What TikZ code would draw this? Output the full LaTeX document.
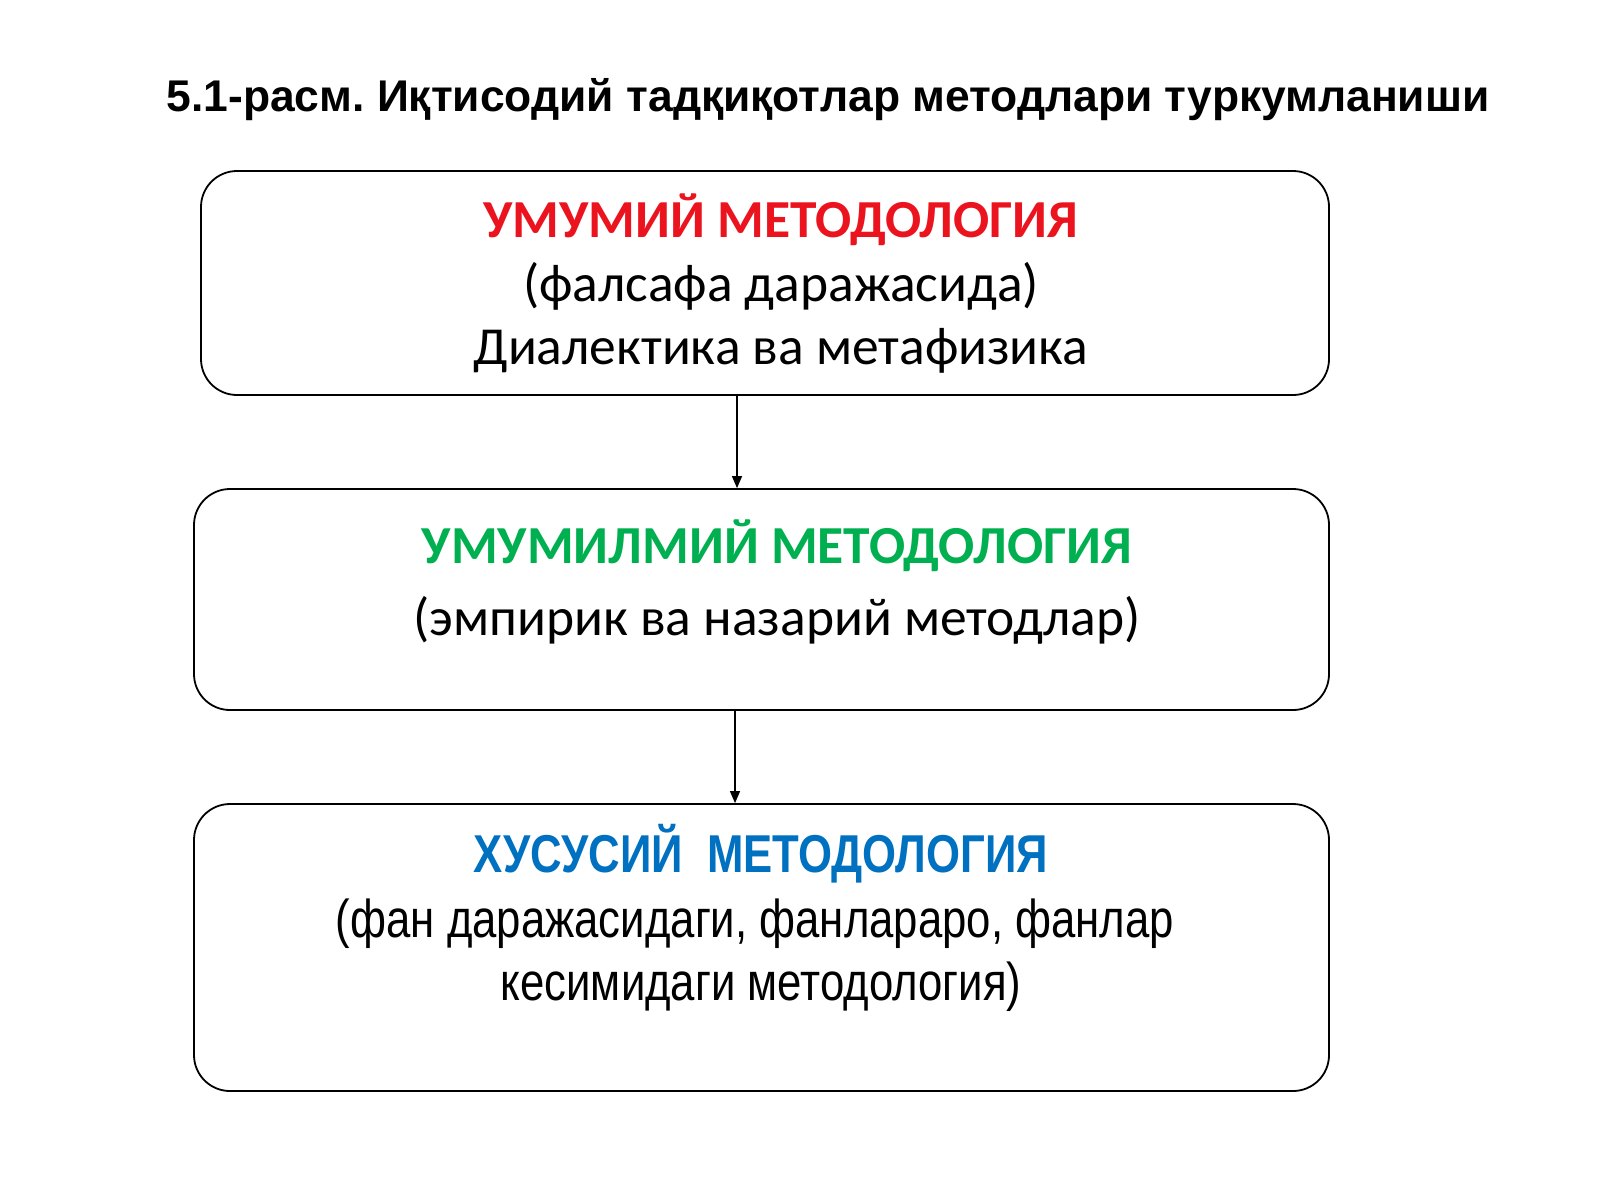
\documentclass[tikz,border=0pt]{standalone}
\usepackage{fontspec}
\setmainfont{Liberation Sans}
\newfontfamily\titlefont{Liberation Sans}
\newfontfamily\calfont{Carlito}
\newfontfamily\narrowfont{Liberation Sans}[FakeStretch=0.82]
\usetikzlibrary{arrows.meta}
\definecolor{hdred}{RGB}{235,20,30}
\definecolor{hdgreen}{RGB}{0,176,80}
\definecolor{hdblue}{RGB}{0,112,192}
\frenchspacing
\begin{document}
\begin{tikzpicture}[x=1pt,y=-1pt,
  box/.style={draw=black,line width=1.8pt,rounded corners=36pt,fill=white,inner sep=0pt},
  txt/.style={anchor=base,inner sep=0pt,text=black},
  arr/.style={line width=1.3pt,-{Triangle[length=12pt,width=10pt]}}]
\useasboundingbox[fill=white] (0,0) rectangle (1600,1200);
% title
\node[txt] (title) at (828,111) {\titlefont\bfseries\fontsize{44.4}{52}\selectfont 5.1-расм. Иқтисодий тадқиқотлар методлари туркумланиши};
% boxes
\node[box,minimum width=1128pt,minimum height=224pt] (b1) at (765,283) {};
\node[box,minimum width=1135pt,minimum height=221pt] (b2) at (761.5,599.5) {};
\node[box,minimum width=1135pt,minimum height=287pt] (b3) at (761.5,947.5) {};
% box 1 text
\node[txt,text=hdred] (h1) at (781,237) {\calfont\bfseries\fontsize{53.5}{60}\selectfont УМУМИЙ МЕТОДОЛОГИЯ};
\node[txt] (t1a) at (781,301) {\calfont\fontsize{53.5}{60}\selectfont (фалсафа даражасида)};
\node[txt] (t1b) at (781,364) {\calfont\fontsize{53.5}{60}\selectfont Диалектика ва метафизика};
% box 2 text
\node[txt,text=hdgreen] (h2) at (777,563) {\calfont\bfseries\fontsize{53.5}{60}\selectfont УМУМИЛМИЙ МЕТОДОЛОГИЯ};
\node[txt] (t2a) at (777,635) {\calfont\fontsize{53.5}{60}\selectfont (эмпирик ва назарий методлар)};
% box 3 text
\node[txt,text=hdblue] (h3) at (761,872) {\narrowfont\bfseries\fontsize{53.3}{60}\selectfont ХУСУСИЙ\ \ МЕТОДОЛОГИЯ};
\node[txt] (t3a) at (755,937) {\narrowfont\fontsize{53.3}{60}\selectfont (фан даражасидаги, фанлараро, фанлар};
\node[txt] (t3b) at (761,1000) {\narrowfont\fontsize{53.3}{60}\selectfont кесимидаги методология)};
% arrows
\coordinate (a1) at (737,0);
\coordinate (a2) at (735,0);
\draw[arr] (b1.south -| a1) -- (b2.north -| a1);
\draw[arr] (b2.south -| a2) -- (b3.north -| a2);
\end{tikzpicture}
\end{document}
